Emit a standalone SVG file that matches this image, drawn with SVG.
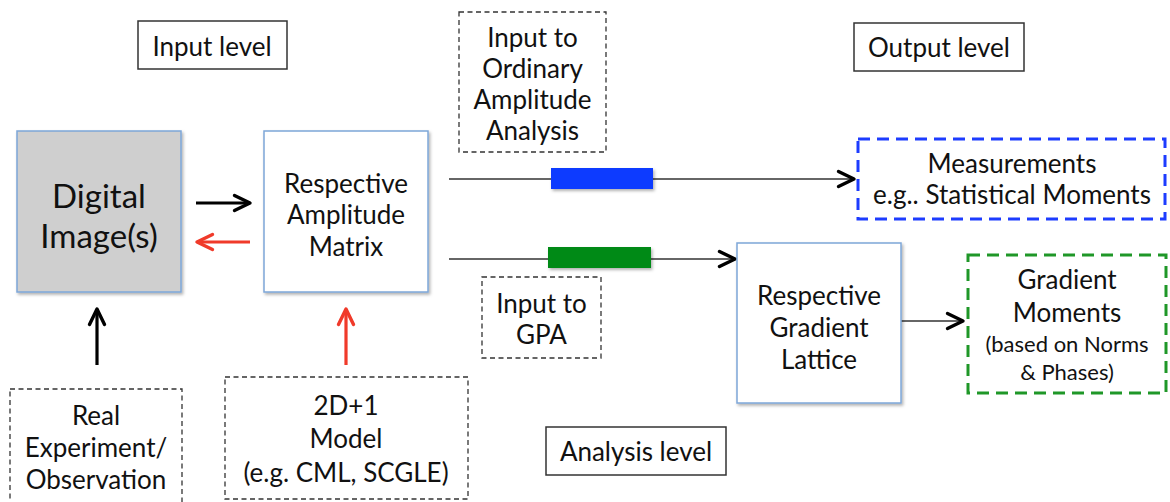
<svg xmlns="http://www.w3.org/2000/svg" width="1170" height="502" viewBox="0 0 1170 502">
<style>
text{font-family:Lato,"Open Sans","Liberation Sans",sans-serif;fill:#111;text-anchor:middle;font-size:26px}
.small{font-size:22px}
.big{font-size:33px}
.lvl{fill:#fff;stroke:#333;stroke-width:1.5}
.dash{fill:#fff;stroke:#333;stroke-width:1.3;stroke-dasharray:5 3.5}
.node{fill:#fff;stroke:#7ea7d8;stroke-width:1.5}
.gray{fill:#cfcfcf;stroke:#7ea7d8;stroke-width:1.5}
.bdash{fill:#fff;stroke:#1d3cff;stroke-width:3;stroke-dasharray:12 7}
.gdash{fill:#fff;stroke:#1f9728;stroke-width:3;stroke-dasharray:12 7}
.thin{fill:none;stroke:#333;stroke-width:1.6;marker-end:url(#chev)}
.thick{fill:none;stroke:#000;stroke-width:3.2;marker-end:url(#chevB)}
.red{fill:none;stroke:#f03a2a;stroke-width:3.2;marker-end:url(#chevR)}
</style>
<defs>
<filter id="sh" x="-10%" y="-10%" width="130%" height="130%">
<feDropShadow dx="1.5" dy="2" stdDeviation="1.5" flood-color="#000" flood-opacity="0.3"/>
</filter>
<marker id="chev" markerUnits="userSpaceOnUse" markerWidth="24" markerHeight="24" refX="17" refY="8" orient="auto" overflow="visible">
<path d="M1.5,0.5 L17,8 L1.5,15.5" fill="none" stroke="#000" stroke-width="3.4" stroke-linecap="round" stroke-linejoin="round"/>
</marker>
<marker id="chevB" markerUnits="userSpaceOnUse" markerWidth="24" markerHeight="24" refX="17" refY="8" orient="auto" overflow="visible">
<path d="M1.5,0.5 L17,8 L1.5,15.5" fill="none" stroke="#000" stroke-width="3.4" stroke-linecap="round" stroke-linejoin="round"/>
</marker>
<marker id="chevR" markerUnits="userSpaceOnUse" markerWidth="24" markerHeight="24" refX="17" refY="8" orient="auto" overflow="visible">
<path d="M1.5,0.5 L17,8 L1.5,15.5" fill="none" stroke="#f03a2a" stroke-width="3.4" stroke-linecap="round" stroke-linejoin="round"/>
</marker>
</defs>
<rect width="1170" height="502" fill="#fff"/>

<g id="connectors">
<line class="thick" x1="196" y1="203" x2="250" y2="203"/>
<line class="red" x1="250" y1="242" x2="197" y2="242"/>
<line class="thick" x1="97" y1="365" x2="97" y2="309"/>
<line class="red" x1="346" y1="365" x2="346" y2="309"/>
<line class="thin" x1="449" y1="179" x2="854" y2="179"/>
<line class="thin" x1="449" y1="259" x2="735" y2="259"/>
<line class="thin" x1="901" y1="321" x2="963" y2="321"/>
<rect x="551" y="168" width="102" height="21" fill="#0d3bff" filter="url(#sh)"/>
<rect x="548" y="247" width="103" height="21" fill="#008a17" filter="url(#sh)"/>
</g>

<g id="input-level">
<rect class="lvl" x="138" y="21" width="149" height="48"/>
<text x="212" y="56">Input level</text>
</g>

<g id="output-level">
<rect class="lvl" x="854" y="23" width="170" height="48"/>
<text x="939" y="57">Output level</text>
</g>

<g id="analysis-level">
<rect class="lvl" x="546" y="427" width="180" height="48"/>
<text x="636" y="461">Analysis level</text>
</g>

<g id="ordinary-input">
<rect class="dash" x="459" y="12" width="147" height="140"/>
<text x="532.5" y="47">Input to</text>
<text x="532.5" y="78">Ordinary</text>
<text x="532.5" y="109">Amplitude</text>
<text x="532.5" y="140">Analysis</text>
</g>

<g id="digital-image">
<rect class="gray" x="17" y="131" width="164" height="161" filter="url(#sh)"/>
<text class="big" x="99" y="208">Digital</text>
<text class="big" x="99" y="248">Image(s)</text>
</g>

<g id="amplitude-matrix">
<rect class="node" x="264" y="131" width="164" height="161" filter="url(#sh)"/>
<text x="346" y="193">Respective</text>
<text x="346" y="224">Amplitude</text>
<text x="346" y="256">Matrix</text>
</g>

<g id="measurements">
<rect class="bdash" x="858" y="139" width="307" height="80"/>
<text x="1012" y="173">Measurements</text>
<text x="1012" y="204">e.g.. Statistical Moments</text>
</g>

<g id="gpa-input">
<rect class="dash" x="482" y="277" width="119" height="81"/>
<text x="541.5" y="313">Input to</text>
<text x="541.5" y="344">GPA</text>
</g>

<g id="gradient-lattice">
<rect class="node" x="737" y="243" width="164" height="160" filter="url(#sh)"/>
<text x="819" y="305">Respective</text>
<text x="819" y="337">Gradient</text>
<text x="819" y="369">Lattice</text>
</g>

<g id="gradient-moments">
<rect class="gdash" x="968" y="255" width="198" height="138"/>
<text x="1067" y="289">Gradient</text>
<text x="1067" y="322">Moments</text>
<text class="small" x="1067" y="352">(based on Norms</text>
<text class="small" x="1067" y="380">&amp; Phases)</text>
</g>

<g id="real-experiment">
<rect class="dash" x="10" y="389" width="172" height="125"/>
<text x="96" y="425">Real</text>
<text x="96" y="457">Experiment/</text>
<text x="96" y="489">Observation</text>
</g>

<g id="model">
<rect class="dash" x="225" y="377" width="243" height="122"/>
<text x="346" y="415">2D+1</text>
<text x="346" y="448">Model</text>
<text x="346" y="482">(e.g. CML, SCGLE)</text>
</g>
</svg>
